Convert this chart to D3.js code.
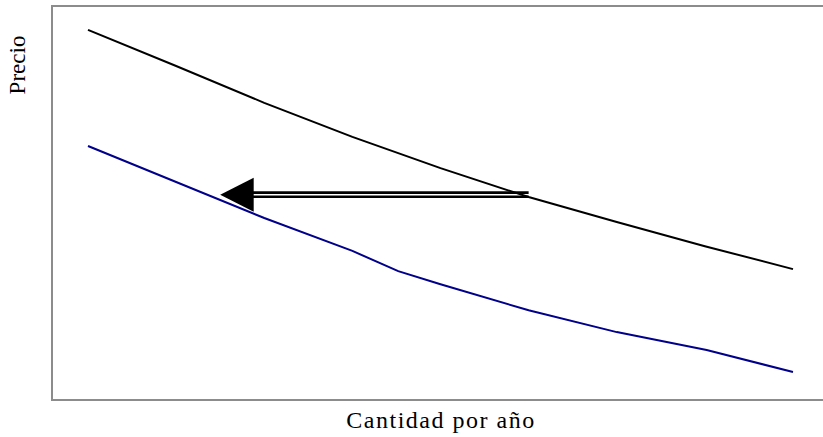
<!DOCTYPE html>
<html>
<head>
<meta charset="utf-8">
<script src="https://cdn.jsdelivr.net/npm/d3@7"></script>
<style>
  html, body { margin: 0; padding: 0; background: #fff; }
  svg { display: block; }
</style>
</head>
<body>
<svg id="chart" width="823" height="437"></svg>
<script>
// Data (quantity per year vs price, arbitrary units)
const demandOriginalQ = [1, 2, 3, 4, 5, 6, 7, 8, 9];
const demandOriginalP = [93.7, 84.6, 75.3, 66.7, 58.8, 51.5, 45.2, 39.1, 33.3];
const demandNewQ = [1, 2, 3, 4, 4.52, 5, 6, 7, 8.02, 9];
const demandNewP = [64.4, 55.3, 46.2, 37.9, 32.8, 29.5, 22.9, 17.4, 12.9, 7.3];
const arrowFromQ = 6.0;
const arrowToQ = 2.5;
const arrowP = 52.1;
const xLabel = "Cantidad por año";
const yLabel = "Precio";

const svg = d3.select("#chart");
const x = d3.scaleLinear().domain([1, 9]).range([88, 793]);
const y = d3.scaleLinear().domain([0, 100]).range([401, 5]);

// plot frame
svg.append("rect")
  .attr("x", 52).attr("y", 6)
  .attr("width", 790).attr("height", 394)
  .attr("fill", "none")
  .attr("stroke", "#8c8c8c")
  .attr("stroke-width", 2);

const line = d3.line().x(d => x(d[0])).y(d => y(d[1]));

svg.append("path")
  .datum(demandOriginalQ.map((q, i) => [q, demandOriginalP[i]]))
  .attr("d", line)
  .attr("fill", "none")
  .attr("stroke", "#000")
  .attr("stroke-width", 2);

svg.append("path")
  .datum(demandNewQ.map((q, i) => [q, demandNewP[i]]))
  .attr("d", line)
  .attr("fill", "none")
  .attr("stroke", "#00008B")
  .attr("stroke-width", 2);

// double-shafted arrow
const ay = y(arrowP);
const x0 = x(arrowFromQ);
const xt = x(arrowToQ);
const headLen = 33.5;
const headHalf = 17;
[-2.1, 2.1].forEach(off => {
  svg.append("line")
    .attr("x1", x0).attr("x2", xt + headLen - 1)
    .attr("y1", ay + off).attr("y2", ay + off)
    .attr("stroke", "#000")
    .attr("stroke-width", 2.6);
});
svg.append("path")
  .attr("d", `M${xt},${ay} L${xt + headLen},${ay - headHalf} L${xt + headLen},${ay + headHalf} Z`)
  .attr("fill", "#000");

// axis titles
svg.append("text")
  .attr("x", 441).attr("y", 428)
  .attr("text-anchor", "middle")
  .attr("font-family", "'Liberation Serif', 'DejaVu Serif', serif")
  .attr("font-size", 24)
  .attr("letter-spacing", 1.5)
  .attr("fill", "#000")
  .text(xLabel);

svg.append("text")
  .attr("transform", "translate(25,65) rotate(-90)")
  .attr("text-anchor", "middle")
  .attr("font-family", "'Liberation Serif', 'DejaVu Serif', serif")
  .attr("font-size", 23)
  .attr("fill", "#000")
  .text(yLabel);
</script>
</body>
</html>
